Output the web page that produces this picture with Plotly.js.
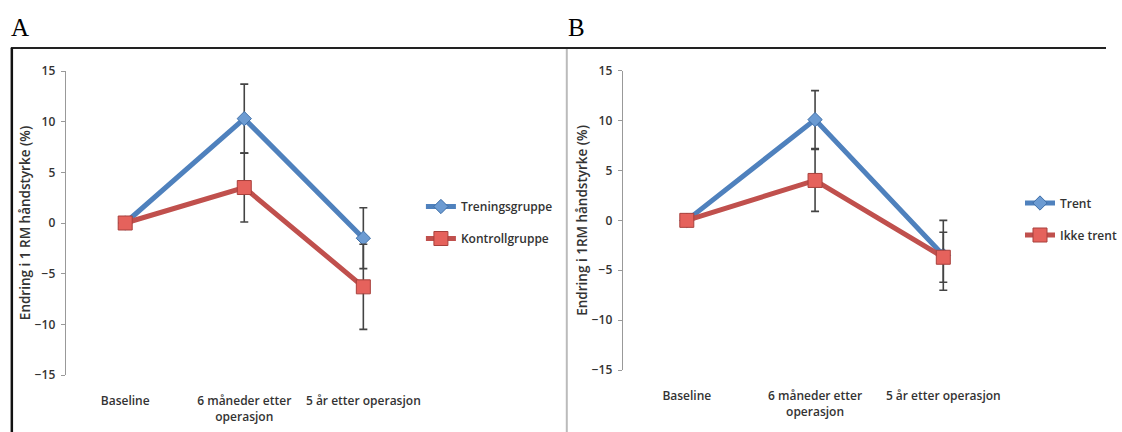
<!DOCTYPE html>
<html>
<head>
<meta charset="utf-8">
<script src="https://cdn.plot.ly/plotly-3.0.1.min.js"></script>
<style>html,body{margin:0;padding:0;background:#fff;}#chart{width:1122px;height:432px;}</style>
</head>
<body>
<div id="chart"></div>
<script>
// Categories (x axis)
const categories = ['Baseline', '6 måneder etter<br>operasjon', '5 år etter operasjon'];

// Panel A
const nameA1 = 'Treningsgruppe';
const valuesA1 = [0, 10.3, -1.5];
const errorsA1 = [null, 3.4, 3.0];
const nameA2 = 'Kontrollgruppe';
const valuesA2 = [0, 3.5, -6.3];
const errorsA2 = [null, 3.4, 4.2];

// Panel B
const nameB1 = 'Trent';
const valuesB1 = [0, 10.1, -3.5];
const errorsB1 = [null, 2.9, 3.5];
const nameB2 = 'Ikke trent';
const valuesB2 = [0, 4.0, -3.7];
const errorsB2 = [null, 3.1, 2.5];

const yTickVals = [-15, -10, -5, 0, 5, 10, 15];
const yTitle = 'Endring i 1 RM håndstyrke (%)';
const yTitleB = 'Endring i 1RM håndstyrke (%)';
const panelLabels = ['A', 'B'];

const W = 1122, H = 432;
const px = v => v / W;
const py = v => 1 - v / H;

const blue = '#4F81BD', red = '#C0504D';
const FAM = 'Open Sans, Roboto, sans-serif';
const font = {family: FAM, size: 12, color: '#333', weight: 600};

function series(name, y, err, color, symbol, size, mline, xa, ya, lg) {
  return {
    type: 'scatter', mode: 'lines+markers', name: name,
    x: categories, y: y, xaxis: xa, yaxis: ya, legend: lg, legendgroup: name,
    line: {color: color, width: 5},
    marker: {symbol: symbol, size: size, color: symbol === 'square' ? '#E5625C' : '#6C9BD2',
             line: {color: mline, width: 1}},
    error_y: {type: 'data', array: err, visible: true, color: '#444', thickness: 1.6, width: 4}
  };
}

const data = [
  series(nameA1, valuesA1, errorsA1, blue, 'diamond', 11, '#3F6FA8', 'x', 'y', 'legend'),
  series(nameA2, valuesA2, errorsA2, red, 'square', 14, '#A8403C', 'x', 'y', 'legend'),
  series(nameB1, valuesB1, errorsB1, blue, 'diamond', 11, '#3F6FA8', 'x2', 'y2', 'legend2'),
  series(nameB2, valuesB2, errorsB2, red, 'square', 14, '#A8403C', 'x2', 'y2', 'legend2')
];

const domXA = [px(66.6), px(429)];
const domYA = [py(375), py(71)];
const domXB = [px(631.7), px(1022)];
const domYB = [py(370), py(70.7)];

function xCat(dom, anchor) {
  return {domain: dom, anchor: anchor, type: 'category', range: [-0.5, 2.5],
    showline: false, ticks: '', showgrid: false, zeroline: false,
    tickfont: font, ticklabelstandoff: 17, fixedrange: true};
}
function xZero(over, domY) {
  return {overlaying: over, anchor: 'free', position: (domY[0] + domY[1]) / 2,
    type: 'linear', range: [-0.5, 2.5], tickvals: [-0.5, 0.5, 1.5, 2.5],
    ticks: 'outside', ticklen: 4, tickcolor: '#999', tickwidth: 1,
    showline: true, linecolor: '#999', linewidth: 1,
    showticklabels: false, showgrid: false, zeroline: false};
}
function yAx(dom, anchor, title) {
  return {domain: dom, anchor: anchor, range: [-15, 15], tickvals: yTickVals,
    showline: true, linecolor: '#999', linewidth: 1, ticks: 'outside', ticklen: 4,
    tickcolor: '#999', showgrid: false, zeroline: false, tickfont: font, ticklabelstandoff: 3,
    title: {text: title, font: {family: FAM, size: 13.5, color: '#333', weight: 600}, standoff: 0}};
}

const layout = {
  width: W, height: H,
  margin: {l: 0, r: 0, t: 0, b: 0},
  paper_bgcolor: '#fff', plot_bgcolor: 'rgba(0,0,0,0)',
  font: font,
  xaxis: xCat(domXA, 'y'),
  yaxis: yAx(domYA, 'x', yTitle),
  xaxis2: xCat(domXB, 'y2'),
  yaxis2: yAx(domYB, 'x2', yTitleB),
  xaxis3: xZero('x', domYA),
  xaxis4: xZero('x2', domYB),
  legend: {x: px(427), y: py(222.5), xanchor: 'left', yanchor: 'middle',
    bgcolor: 'rgba(0,0,0,0)', font: font, tracegroupgap: 13, itemwidth: 30},
  legend2: {x: px(1035), y: py(219), xanchor: 'left', yanchor: 'middle',
    bgcolor: 'rgba(0,0,0,0)', font: font, tracegroupgap: 13, itemwidth: 30},
  showlegend: true,
  shapes: [
    {type: 'line', xref: 'paper', yref: 'paper', x0: px(11), x1: 1, y0: py(48), y1: py(48), line: {color: '#222', width: 2}},
    {type: 'line', xref: 'paper', yref: 'paper', x0: px(12), x1: px(12), y0: py(48), y1: 0, line: {color: '#111', width: 2.5}},
    {type: 'line', xref: 'paper', yref: 'paper', x0: px(575), x1: px(575), y0: py(49), y1: 0, line: {color: '#bbb', width: 2}}
  ],
  annotations: [
    {text: panelLabels[0], xref: 'paper', yref: 'paper', x: px(9), y: py(27), xanchor: 'left', yanchor: 'middle', showarrow: false,
     font: {family: 'Liberation Serif, serif', size: 25, color: '#000', weight: 400}},
    {text: panelLabels[1], xref: 'paper', yref: 'paper', x: px(574), y: py(27), xanchor: 'left', yanchor: 'middle', showarrow: false,
     font: {family: 'Liberation Serif, serif', size: 25, color: '#000', weight: 400}}
  ]
};

Plotly.newPlot('chart', data, layout, {displayModeBar: false, staticPlot: true});
</script>
</body>
</html>
